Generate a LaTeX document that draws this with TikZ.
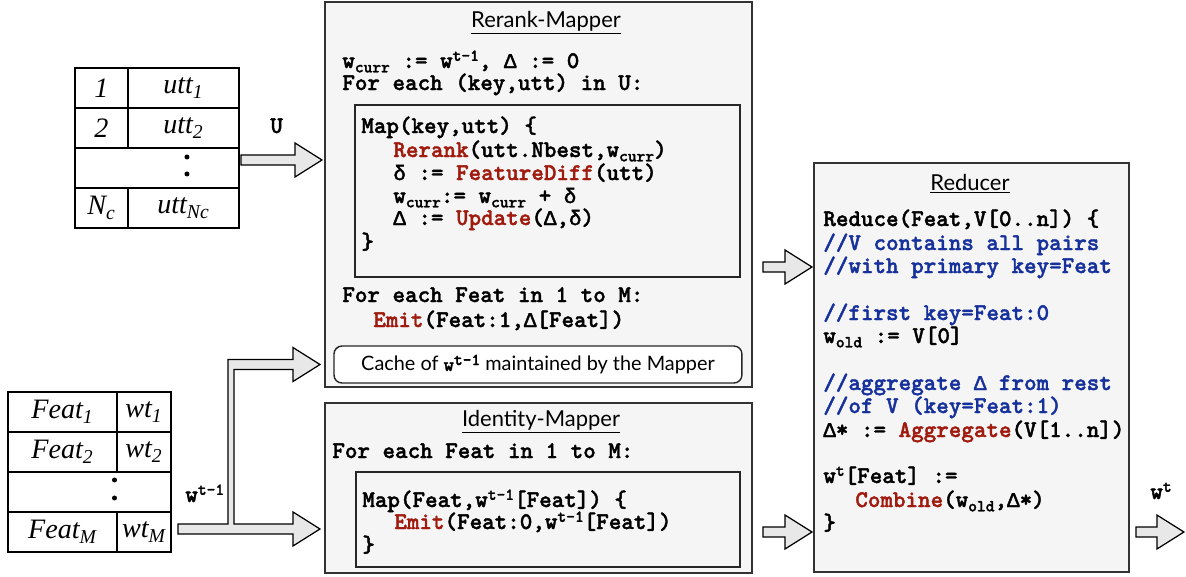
\documentclass[tikz,border=0pt]{standalone}
\usepackage{fontspec}
\setmainfont{Lato}
\newfontfamily\tabfont{Liberation Serif}
\newfontfamily\codefont{lmmonolt10-bold.otf}[FakeBold=1.6]
\newfontfamily\greekmono{Liberation Mono}[Scale=0.875, FakeBold=2]
\usepackage{xcolor}
\usetikzlibrary{positioning, calc}

\definecolor{fnred}{RGB}{160,26,14}
\definecolor{cmtblue}{RGB}{22,48,156}
\definecolor{panelgray}{RGB}{245,245,245}
\definecolor{arrowgray}{RGB}{232,232,232}

\newcommand{\fn}[1]{\textcolor{fnred}{#1}}
\newcommand{\wsub}[1]{w\raisebox{-0.18em}{\fontsize{9.5}{10}\selectfont #1}}
\newcommand{\wsup}[1]{w\raisebox{0.3em}{\fontsize{9.5}{10}\selectfont #1}}
\newcommand{\GD}{{\greekmono Δ}}
\newcommand{\gd}{{\greekmono δ}}
% hollow block arrow from #1 to the tip #2 (same height)
\newcommand{\fatarrow}[2]{%
  \filldraw[blockarrow] ($(#1)+(0,-5)$) -- ($(#2)+(-27,-5)$) -- ($(#2)+(-27,-17)$) -- (#2)
    -- ($(#2)+(-27,17)$) -- ($(#2)+(-27,5)$) -- ($(#1)+(0,5)$) -- cycle;}

\begin{document}
\begin{tikzpicture}[
    x=0.02cm, y=-0.02cm,
    % boxes
    panel/.style={rectangle, draw=black!80, fill=panelgray, line width=0.9pt, outer sep=0pt, inner sep=0pt, anchor=north west},
    innerbox/.style={rectangle, draw=black!85, line width=0.8pt, outer sep=0pt, inner sep=0pt, anchor=north west},
    cachebox/.style={rectangle, rounded corners=0.16cm, draw=black!85, fill=white, line width=0.8pt, outer sep=0pt, inner sep=0pt, anchor=north west, font=\fontsize{11.3}{13}\selectfont},
    heading/.style={font=\fontsize{12.5}{14}\selectfont, anchor=base, inner sep=0pt},
    % text
    code/.style={font=\codefont\fontsize{13.6}{15}\selectfont, anchor=base west, inner sep=0pt},
    comment/.style={code, text=cmtblue},
    lbl/.style={font=\codefont\fontsize{13.6}{15}\selectfont, anchor=base west, inner sep=0pt},
    % tables
    cell/.style={rectangle, draw=black, line width=1pt, outer sep=0pt, inner sep=0pt, minimum height=0.8cm, font=\tabfont\itshape\fontsize{16}{18}\selectfont},
    % arrows
    blockarrow/.style={fill=arrowgray, draw=black, line width=0.7pt, line join=miter}
]
\useasboundingbox (0,0) rectangle (1186,576);

% 1. Utterance table (top left)
\node[cell, minimum width=1.06cm, anchor=north west] (k1) at (75,68) {1};
\node[cell, minimum width=2.22cm, right=0pt of k1] (u1) {utt\textsubscript{1}};
\node[cell, minimum width=1.06cm, below=0pt of k1] (k2) {2};
\node[cell, minimum width=2.22cm, right=0pt of k2] (u2) {utt\textsubscript{2}};
\node[cell, minimum width=3.28cm, below=0pt of k2.south west, anchor=north west] (udots) {};
\node[cell, minimum width=1.06cm, below=0pt of udots.south west, anchor=north west] (k4) {N\textsubscript{c}};
\node[cell, minimum width=2.22cm, right=0pt of k4] (u4) {utt\textsubscript{Nc}};
\fill ($(udots.center)+(30,-11)$) circle[radius=0.05cm] ($(udots.center)+(30,6)$) circle[radius=0.05cm];

% 2. Weight table (bottom left)
\node[cell, minimum width=2.18cm, anchor=north west] (f1) at (8,392) {Feat\textsubscript{1}};
\node[cell, minimum width=1.08cm, right=0pt of f1] (wt1) {wt\textsubscript{1}};
\node[cell, minimum width=2.18cm, below=0pt of f1] (f2) {Feat\textsubscript{2}};
\node[cell, minimum width=1.08cm, right=0pt of f2] (wt2) {wt\textsubscript{2}};
\node[cell, minimum width=3.26cm, below=0pt of f2.south west, anchor=north west] (fdots) {};
\node[cell, minimum width=2.18cm, below=0pt of fdots.south west, anchor=north west] (fM) {Feat\textsubscript{M}};
\node[cell, minimum width=1.08cm, right=0pt of fM] (wtM) {wt\textsubscript{M}};
\fill ($(fdots.center)+(25,-12)$) circle[radius=0.05cm] ($(fdots.center)+(25,6)$) circle[radius=0.05cm];

% 3. Rerank-Mapper
\node[panel, minimum width=8.54cm, minimum height=7.70cm] (rerank) at (325,2) {};
\node[heading] (rtitle) at (546,27) {\underline{Rerank-Mapper}};
\node[code] (r1) at (342,68) {\wsub{curr} := \wsup{t-1}, \GD{} := 0};
\node[code] (r2) at (342,90) {For each (key,utt) in U:};
\node[innerbox, minimum width=7.70cm, minimum height=3.44cm] (rmap) at (355,105) {};
\node[code] (m1) at (361,133) {Map(key,utt) \{};
\node[code] (m2) at (393,157) {\fn{Rerank}(utt.Nbest,\wsub{curr})};
\node[code] (m3) at (393,180) {\gd{} := \fn{FeatureDiff}(utt)};
\node[code] (m4) at (393,203) {\wsub{curr}:= \wsub{curr} + \gd};
\node[code] (m5) at (393,225) {\GD{} := \fn{Update}(\GD,\gd)};
\node[code] (m6) at (361,249) {\}};
\node[code] (e1) at (342,302) {For each Feat in 1 to M:};
\node[code] (e2) at (373,327) {\fn{Emit}(Feat:1,\GD[Feat])};
\node[cachebox, minimum width=8.16cm, minimum height=0.74cm] (cache) at (334,346)
    {Cache of {\codefont\wsup{t-1}} maintained by the Mapper};

% 4. Identity-Mapper
\node[panel, minimum width=8.54cm, minimum height=3.40cm] (identity) at (325,403) {};
\node[heading] (ititle) at (541,426) {\underline{Identity-Mapper}};
\node[code] (i1) at (332,458) {For each Feat in 1 to M:};
\node[innerbox, minimum width=7.68cm, minimum height=1.90cm] (imap) at (356,472) {};
\node[code] (i2) at (362,507) {Map(Feat,\wsup{t-1}[Feat]) \{};
\node[code] (i3) at (394,529) {\fn{Emit}(Feat:0,\wsup{t-1}[Feat])};
\node[code] (i4) at (362,552) {\}};

% 5. Reducer
\node[panel, minimum width=6.30cm, minimum height=8.18cm] (reducer) at (814,163) {};
\node[heading] (dtitle) at (970,190) {\underline{Reducer}};
\node[code] (d1) at (823,226) {Reduce(Feat,V[0..n]) \{};
\node[comment] (d2) at (823,250) {//V contains all pairs};
\node[comment] (d3) at (823,273) {//with primary key=Feat};
\node[comment] (d4) at (823,320) {//first key=Feat:0};
\node[code] (d5) at (823,343) {\wsub{old} := V[0]};
\node[comment] (d6) at (823,390) {//aggregate \GD{} from rest};
\node[comment] (d7) at (823,413) {//of V (key=Feat:1)};
\node[code] (d8) at (823,437) {\GD* := \fn{Aggregate}(V[1..n])};
\node[code] (d9) at (823,483) {\wsup{t}[Feat] :=};
\node[code] (d10) at (855,507) {\fn{Combine}(\wsub{old},\GD*)};
\node[code] (d11) at (823,530) {\}};

% 6. Connectors
\coordinate (ustart) at ($(udots.east)+(2,-8)$);
\coordinate (uend) at ($(rerank.west |- ustart)+(-3,0)$);
\fatarrow{ustart}{uend}
\node[lbl] (ulabel) at (270,133) {U};

\coordinate (w0) at ($(wtM.east)+(7,-3)$);
\coordinate (wsplit) at ($(w0)+(53,0)$);
\coordinate (wlow) at ($(identity.west |- w0)+(-5,0)$);
\coordinate (wup) at ($(rerank.west |- cache.west)+(-5,0)$);
\filldraw[blockarrow] ($(w0)+(0,5)$) -- ($(wlow)+(-27,5)$) -- ($(wlow)+(-27,17)$) -- (wlow)
    -- ($(wlow)+(-27,-17)$) -- ($(wlow)+(-27,-5)$) -- ($(wsplit)+(3,-5)$)
    -- ($(wsplit |- wup)+(3,5)$) -- ($(wup)+(-27,5)$) -- ($(wup)+(-27,17)$) -- (wup)
    -- ($(wup)+(-27,-17)$) -- ($(wup)+(-27,-5)$) -- ($(wsplit |- wup)+(-3,-5)$)
    -- ($(wsplit)+(-3,-5)$) -- ($(w0)+(0,-5)$) -- cycle;
\node[lbl] (wlabel) at (185,502) {\wsup{t-1}};

\coordinate (a1) at ($(rerank.east |- 0,267)+(11,0)$);
\coordinate (b1) at ($(reducer.west |- a1)+(-2,0)$);
\fatarrow{a1}{b1}
\coordinate (a2) at ($(identity.east |- 0,532)+(11,0)$);
\coordinate (b2) at ($(reducer.west |- a2)+(-2,0)$);
\fatarrow{a2}{b2}

\coordinate (out0) at ($(reducer.east |- 0,532)+(7,0)$);
\coordinate (out1) at ($(out0)+(48,0)$);
\fatarrow{out0}{out1}
\node[lbl] (wtlabel) at (1150,499) {\wsup{t}};

\end{tikzpicture}
\end{document}
